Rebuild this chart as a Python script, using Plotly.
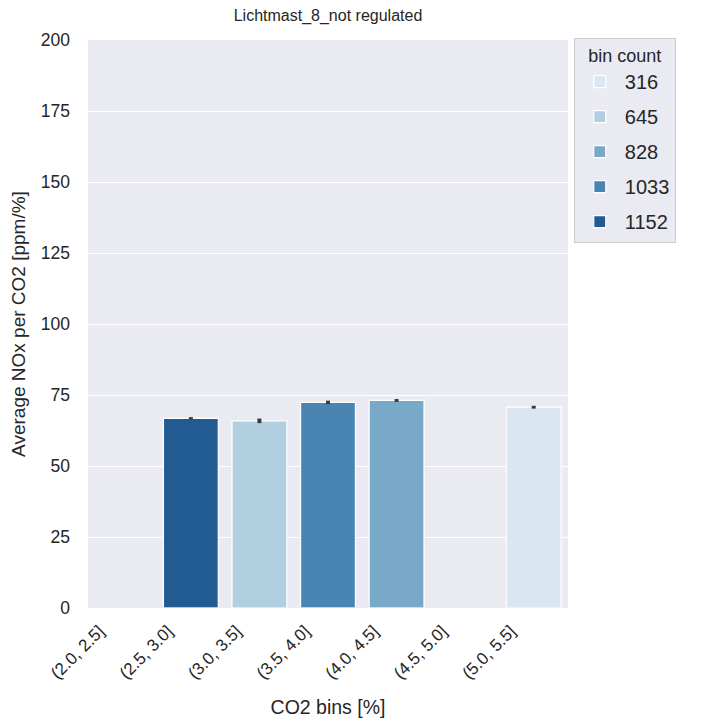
import plotly.graph_objects as go

categories = ["(2.0, 2.5]", "(2.5, 3.0]", "(3.0, 3.5]", "(3.5, 4.0]", "(4.0, 4.5]", "(4.5, 5.0]", "(5.0, 5.5]"]
values = [None, 66.8, 65.9, 72.4, 73.1, None, 70.7]
errors = [None, 0.4, 0.8, 0.6, 0.5, None, 0.5]
counts = [None, 1152, 645, 1033, 828, None, 316]
legend_counts = [316, 645, 828, 1033, 1152]
colors = {316: "#dae7f3", 645: "#b2cfe2", 828: "#78a9c9", 1033: "#4984b2", 1152: "#225b91"}

fig = go.Figure()
for c in legend_counts:
    xs, ys, es = [], [], []
    for cat, v, e, n in zip(categories, values, errors, counts):
        if n == c:
            xs.append(cat); ys.append(v); es.append(e)
    fig.add_trace(go.Bar(
        x=xs, y=ys, name=str(c), width=0.8, legendgroup=str(c),
        marker=dict(color=colors[c], line=dict(color="white", width=1.2)),
        error_y=dict(type="data", array=es, visible=True, color="#3a3a3a", thickness=4, width=0),
    ))

# invisible trace to keep all categories on the axis
fig.add_trace(go.Bar(x=categories, y=[0]*len(categories), showlegend=False, hoverinfo="skip",
                     marker=dict(color="rgba(0,0,0,0)")))

fig.update_layout(
    width=701, height=712,
    paper_bgcolor="white", plot_bgcolor="#eaeaf2",
    barmode="overlay",
    margin=dict(l=80, r=141, t=32, b=112),
    font=dict(family="Arial, Liberation Sans, sans-serif", color="#262626", size=17),
    title=dict(text="Lichtmast_8_not regulated", x=0.5, xref="paper", xanchor="center",
               y=1, yref="paper", yanchor="bottom", pad=dict(b=19), font=dict(size=16)),
    legend=dict(x=1.012, y=1.004, xanchor="left", yanchor="top",
                title=dict(text="bin count", side="top center", font=dict(size=18)),
                font=dict(size=20), bgcolor="#eaeaf2", bordercolor="#cccccc", borderwidth=1,
                traceorder="grouped", tracegroupgap=6, itemwidth=40),
)
fig.update_xaxes(categoryorder="array", categoryarray=categories, range=[-0.5, 6.5],
                 tickangle=-45, showgrid=False, zeroline=False, ticks="", automargin=False,
                 ticklabelshift=-23, ticklabelstandoff=9,
                 title=dict(text="CO2 bins [%]", font=dict(size=19.5), standoff=18),
                 tickfont=dict(size=17))
fig.update_yaxes(range=[0, 200], tickvals=[0, 25, 50, 75, 100, 125, 150, 175, 200],
                 gridcolor="white", gridwidth=1.3, zeroline=False, ticks="", automargin=False,
                 ticklabelstandoff=17,
                 title=dict(text="Average NOx per CO2 [ppm/%]", font=dict(size=19), standoff=10),
                 tickfont=dict(size=17.5))

fig.write_html("out.html")
